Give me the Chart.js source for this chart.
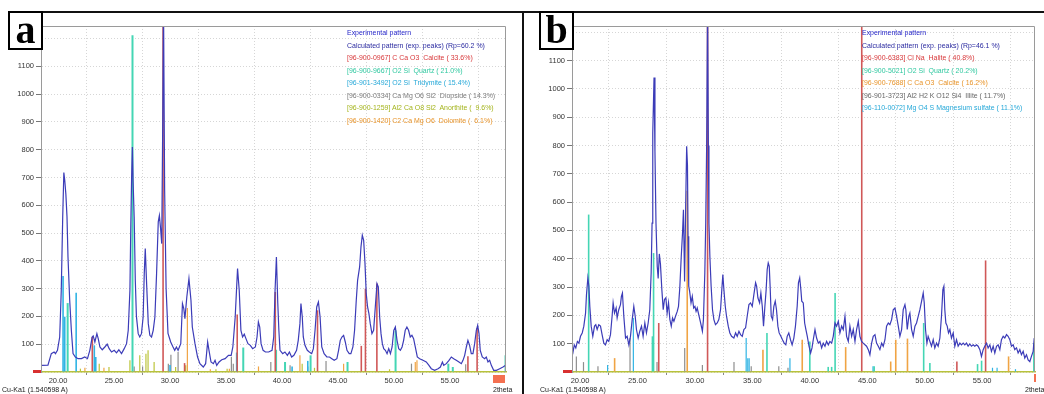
<!DOCTYPE html>
<html>
<head>
<meta charset="utf-8">
<script src="https://cdn.jsdelivr.net/npm/chart.js@4.4.0/dist/chart.umd.min.js"></script>
<style>
    body { margin: 0; background: #fff; width: 1044px; height: 394px; overflow: hidden; position: relative; font-family: "Liberation Sans", Arial, sans-serif; }
    canvas { position: absolute; top: 0; }
    #chartA { left: 0; }
    #chartB { left: 524px; }
    .rule { position: absolute; background: #111; }
    .panelTag { position: absolute; top: 11px; width: 31px; height: 35px; border: 2px solid #000; background: #fff; font: bold 40px "Liberation Serif", "Times New Roman", serif; line-height: 33px; text-align: center; }
    .legend { position: absolute; top: 27px; font: 8px "Liberation Sans", Arial, sans-serif; line-height: 12.5px; transform: scaleX(0.87); transform-origin: 0 0; }
    .legend div { white-space: pre; }
    .foot { position: absolute; top: 386px; font: 7px "Liberation Sans", Arial, sans-serif; color: #222; }
    .mark { position: absolute; }
</style>
</head>
<body>
<canvas id="chartA" width="520" height="394"></canvas>
<canvas id="chartB" width="520" height="394"></canvas>

<div class="rule" style="left:8px; top:11px; width:1036px; height:1.5px;"></div>
<div class="rule" style="left:522px; top:11px; width:1.5px; height:383px;"></div>
<div class="panelTag" style="left:8px;">a</div>
<div class="panelTag" style="left:539px;">b</div>

<div class="legend" style="left:347px;"><div style="color:#2626c8">Experimental pattern</div><div style="color:#2a2aa0">Calculated pattern (exp. peaks) (Rp=60.2 %)</div><div style="color:#d8383a">[96-900-0967] C Ca O3  Calcite ( 33.6%)</div><div style="color:#30c8a0">[96-900-9667] O2 Si  Quartz ( 21.0%)</div><div style="color:#26a8d8">[96-901-3492] O2 Si  Tridymite ( 15.4%)</div><div style="color:#7c7c7c">[96-900-0334] Ca Mg O6 Si2  Diopside ( 14.3%)</div><div style="color:#a4b41c">[96-900-1259] Al2 Ca O8 Si2  Anorthite (  9.6%)</div><div style="color:#e8942a">[96-900-1420] C2 Ca Mg O6  Dolomite (  6.1%)</div></div>
<div class="legend" style="left:862px;"><div style="color:#2626c8">Experimental pattern</div><div style="color:#2a2aa0">Calculated pattern (exp. peaks) (Rp=46.1 %)</div><div style="color:#d8383a">[96-900-6383] Cl Na  Halite ( 40.8%)</div><div style="color:#30c8a0">[96-900-5021] O2 Si  Quartz ( 20.2%)</div><div style="color:#e8942a">[96-900-7688] C Ca O3  Calcite ( 16.2%)</div><div style="color:#666666">[96-901-3723] Al2 H2 K O12 Si4  Illite ( 11.7%)</div><div style="color:#26a8d8">[96-110-0072] Mg O4 S Magnesium sulfate ( 11.1%)</div></div>

<div class="foot" style="left:2px;">Cu-Ka1 (1.540598 A)</div>
<div class="foot" style="left:493px;">2theta</div>
<div class="foot" style="left:540px;">Cu-Ka1 (1.540598 A)</div>
<div class="foot" style="left:1025px;">2theta</div>
<div class="mark" style="left:33px; top:370px; width:8px; height:3px; background:#d83030;"></div>
<div class="mark" style="left:493px; top:375px; width:12px; height:8px; background:#f47050;"></div>
<div class="mark" style="left:563px; top:370px; width:9px; height:3px; background:#d83030;"></div>
<div class="mark" style="left:1034px; top:374px; width:2px; height:8px; background:#f47050;"></div>

<script>
// tick values shared by both panels
const xTicks = [20, 25, 30, 35, 40, 45, 50, 55];
const yTicks = [0, 100, 200, 300, 400, 500, 600, 700, 800, 900, 1000, 1100, 1200];

// panel a - experimental pattern [2theta, counts]
const aPattern = [
    [18.5, 24], [19.1, 25], [19.4, 66], [19.65, 72], [19.77, 66], [19.95, 78], [20.15, 126], [20.29, 294],
    [20.42, 560], [20.52, 718], [20.6, 690], [20.7, 640], [20.8, 560], [20.89, 414], [21.04, 260], [21.19, 150],
    [21.34, 66], [21.55, 54], [21.79, 48], [22.09, 48], [22.39, 54], [22.63, 48], [22.84, 78], [23.05, 126],
    [23.14, 130], [23.29, 108], [23.47, 138], [23.59, 120], [23.74, 90], [23.95, 80], [24.18, 90], [24.39, 100],
    [24.57, 84], [24.78, 72], [25.02, 78], [25.22, 69], [25.43, 80], [25.67, 66], [25.91, 84], [26.12, 102],
    [26.27, 150], [26.42, 294], [26.5, 530], [26.57, 697], [26.64, 810], [26.7, 690], [26.8, 558], [26.9, 330],
    [27.0, 200], [27.16, 138], [27.3, 126], [27.45, 138], [27.6, 198], [27.7, 354], [27.79, 444], [27.91, 318],
    [28.06, 174], [28.2, 132], [28.35, 126], [28.5, 150], [28.65, 198], [28.8, 354], [28.95, 540], [29.05, 563],
    [29.15, 520], [29.26, 462], [29.35, 900], [29.42, 1320], [29.52, 654], [29.65, 300], [29.82, 139], [30.06, 108],
    [30.27, 90], [30.42, 78], [30.57, 90], [30.72, 78], [30.96, 102], [31.11, 246], [31.23, 228], [31.33, 192],
    [31.5, 270], [31.69, 336], [31.87, 258], [31.99, 162], [32.23, 102], [32.46, 54], [32.67, 30], [32.97, 18],
    [33.18, 30], [33.36, 108], [33.48, 78], [33.66, 36], [33.87, 30], [34.02, 42], [34.17, 24], [34.38, 36],
    [34.62, 44], [34.92, 48], [35.22, 60], [35.46, 60], [35.61, 90], [35.82, 198], [36.03, 372], [36.18, 294],
    [36.33, 150], [36.48, 126], [36.63, 136], [36.78, 120], [36.96, 102], [37.17, 96], [37.38, 84], [37.62, 90],
    [37.77, 126], [37.89, 180], [38.01, 162], [38.13, 102], [38.31, 78], [38.52, 72], [38.81, 72], [39.11, 78],
    [39.26, 126], [39.38, 294], [39.5, 414], [39.62, 250], [39.72, 150], [39.82, 78], [40.06, 66], [40.26, 72],
    [40.48, 60], [40.66, 72], [40.86, 54], [41.06, 60], [41.3, 78], [41.45, 114], [41.6, 174], [41.69, 246],
    [41.81, 198], [41.9, 126], [42.05, 96], [42.26, 78], [42.44, 72], [42.65, 66], [42.8, 84], [42.95, 150],
    [43.1, 234], [43.25, 252], [43.4, 198], [43.55, 90], [43.76, 66], [44.0, 54], [44.24, 54], [44.45, 48],
    [44.66, 42], [44.9, 48], [45.05, 78], [45.2, 114], [45.35, 126], [45.5, 132], [45.65, 108], [45.8, 78],
    [46.0, 66], [46.15, 66], [46.33, 90], [46.48, 150], [46.63, 258], [46.75, 330], [46.93, 378], [47.05, 450],
    [47.17, 492], [47.29, 474], [47.41, 390], [47.52, 282], [47.64, 234], [47.76, 210], [47.88, 174], [48.03, 138],
    [48.18, 150], [48.33, 234], [48.48, 318], [48.6, 306], [48.72, 198], [48.84, 138], [48.96, 102], [49.08, 84],
    [49.23, 78], [49.38, 66], [49.53, 84], [49.68, 66], [49.83, 90], [49.98, 150], [50.12, 162], [50.27, 114],
    [50.42, 84], [50.57, 78], [50.72, 90], [50.86, 114], [51.0, 150], [51.15, 162], [51.3, 150], [51.45, 126],
    [51.6, 132], [51.75, 120], [51.9, 90], [52.08, 54], [52.29, 48], [52.58, 42], [52.88, 36], [53.12, 24],
    [53.33, 12], [53.63, 6], [53.93, 12], [54.14, 18], [54.32, 36], [54.44, 24], [54.67, 30], [54.91, 42],
    [55.12, 54], [55.33, 48], [55.56, 42], [55.8, 36], [56.01, 30], [56.16, 42], [56.31, 60], [56.46, 90],
    [56.6, 114], [56.75, 96], [56.9, 66], [57.05, 66], [57.2, 102], [57.35, 150], [57.47, 168], [57.59, 138],
    [57.7, 78], [57.88, 54], [58.09, 48], [58.24, 54], [58.39, 36], [58.54, 42], [58.69, 24], [58.9, 6],
    [59.14, 6], [59.44, 12], [59.73, 18], [59.97, 24]
];

// panel a - reference peaks [2theta, counts]
const aCalcite = [[23.06, 126], [29.38, 1320], [31.3, 32], [36.0, 207], [39.4, 288], [43.17, 222], [47.08, 94], [47.45, 300], [48.47, 318], [56.6, 57], [57.42, 158]];
const aQuartz = [[20.86, 248], [26.65, 1212], [36.54, 88], [39.47, 80], [40.27, 36], [42.55, 60], [45.85, 36], [50.14, 150], [54.85, 30], [55.25, 18], [59.96, 60]];
const aTridymite = [[20.45, 345], [20.6, 199], [21.62, 285], [23.24, 96], [23.37, 54], [30.0, 25], [35.95, 70], [40.9, 20], [42.3, 40]];
const aDiopside = [[26.8, 20], [27.55, 20], [29.85, 30], [30.08, 62], [30.72, 72], [35.48, 55], [35.65, 30], [39.0, 36], [40.72, 24], [42.3, 20], [43.93, 40], [51.56, 30], [56.4, 28]];
const aAnorthite = [[22.0, 12], [23.68, 30], [24.55, 18], [26.42, 42], [27.3, 60], [27.85, 66], [28.04, 78], [28.58, 36], [30.5, 18], [31.4, 24], [34.1, 10], [35.1, 12], [41.8, 30], [42.9, 15], [49.6, 10]];
const aDolomite = [[22.4, 15], [24.1, 15], [31.55, 230], [33.6, 10], [35.3, 12], [37.9, 20], [41.6, 60], [45.5, 30], [51.9, 36], [52.05, 42]];

// panel b - experimental pattern [2theta, counts]
const bPattern = [
    [19.3, 96], [19.4, 73], [19.5, 96], [19.63, 85], [19.77, 108], [19.9, 102], [20.04, 126], [20.19, 138],
    [20.33, 162], [20.48, 208], [20.56, 273], [20.68, 332], [20.77, 303], [20.85, 232], [20.97, 162], [21.11, 126],
    [21.26, 162], [21.37, 167], [21.49, 150], [21.63, 167], [21.78, 162], [21.92, 132], [22.07, 102], [22.21, 96],
    [22.36, 114], [22.5, 108], [22.65, 132], [22.79, 197], [22.88, 244], [23.0, 208], [23.14, 226], [23.23, 191],
    [23.37, 220], [23.52, 238], [23.6, 267], [23.69, 279], [23.81, 197], [23.96, 120], [24.1, 126], [24.25, 96],
    [24.39, 126], [24.54, 185], [24.68, 232], [24.8, 197], [24.91, 150], [25.06, 120], [25.2, 144], [25.35, 162],
    [25.49, 126], [25.64, 173], [25.78, 138], [25.93, 173], [26.07, 220], [26.19, 350], [26.27, 526], [26.33, 845],
    [26.44, 1040], [26.52, 780], [26.61, 526], [26.72, 373], [26.8, 330], [26.9, 417], [27.0, 380], [27.12, 291],
    [27.24, 220], [27.35, 256], [27.47, 262], [27.58, 208], [27.7, 244], [27.82, 185], [27.94, 162], [28.05, 191],
    [28.17, 179], [28.31, 197], [28.46, 214], [28.57, 232], [28.69, 303], [28.81, 409], [28.92, 491], [29.0, 573],
    [29.1, 320], [29.2, 600], [29.28, 797], [29.35, 730], [29.4, 479], [29.46, 303], [29.54, 285], [29.66, 244],
    [29.77, 267], [29.89, 226], [30.0, 232], [30.1, 214], [30.2, 226], [30.36, 197], [30.5, 173], [30.65, 144],
    [30.74, 185], [30.86, 350], [30.94, 526], [31.02, 800], [31.1, 1300], [31.17, 800], [31.22, 526], [31.3, 409],
    [31.41, 303], [31.53, 220], [31.65, 185], [31.79, 167], [31.94, 173], [32.08, 185], [32.23, 220], [32.34, 291],
    [32.43, 344], [32.52, 291], [32.64, 232], [32.75, 197], [32.9, 162], [33.04, 138], [33.19, 126], [33.39, 120],
    [33.54, 138], [33.68, 126], [33.83, 144], [33.97, 132], [34.12, 126], [34.26, 150], [34.41, 156], [34.55, 197],
    [34.7, 238], [34.84, 244], [34.99, 232], [35.13, 273], [35.28, 315], [35.37, 303], [35.48, 262], [35.63, 244],
    [35.74, 279], [35.86, 232], [35.97, 162], [36.09, 232], [36.2, 291], [36.29, 362], [36.38, 385], [36.47, 373],
    [36.55, 297], [36.64, 197], [36.76, 185], [36.87, 232], [36.99, 250], [37.1, 220], [37.22, 162], [37.33, 138],
    [37.48, 126], [37.62, 114], [37.77, 102], [37.91, 96], [38.03, 126], [38.17, 138], [38.32, 114], [38.46, 96],
    [38.61, 120], [38.75, 162], [38.9, 232], [39.01, 315], [39.12, 332], [39.22, 291], [39.3, 250], [39.43, 244],
    [39.55, 173], [39.66, 150], [39.78, 126], [39.93, 91], [40.07, 67], [40.19, 85], [40.3, 114], [40.45, 150],
    [40.59, 120], [40.74, 102], [40.88, 108], [41.03, 85], [41.17, 102], [41.32, 91], [41.46, 108], [41.61, 96],
    [41.75, 108], [41.9, 102], [42.04, 126], [42.19, 173], [42.33, 162], [42.48, 179], [42.62, 138], [42.77, 162],
    [42.91, 150], [43.06, 197], [43.2, 126], [43.35, 108], [43.49, 162], [43.64, 126], [43.78, 150], [43.93, 108],
    [44.07, 150], [44.22, 179], [44.36, 126], [44.51, 108], [44.65, 102], [44.8, 96], [44.94, 91], [45.09, 79],
    [45.23, 61], [45.38, 102], [45.52, 126], [45.67, 132], [45.81, 102], [45.96, 91], [46.1, 79], [46.25, 102],
    [46.39, 91], [46.54, 114], [46.68, 162], [46.83, 173], [46.97, 167], [47.12, 185], [47.26, 220], [47.41, 226],
    [47.55, 197], [47.7, 162], [47.84, 126], [47.99, 150], [48.13, 220], [48.28, 238], [48.36, 220], [48.48, 150],
    [48.62, 197], [48.71, 208], [48.86, 150], [49.0, 126], [49.15, 162], [49.29, 173], [49.44, 197], [49.58, 220],
    [49.73, 250], [49.87, 279], [49.96, 244], [50.07, 150], [50.19, 102], [50.3, 126], [50.45, 108], [50.59, 91],
    [50.74, 114], [50.88, 85], [51.03, 102], [51.17, 91], [51.32, 120], [51.46, 197], [51.58, 291], [51.67, 303],
    [51.75, 220], [51.84, 173], [51.96, 162], [52.07, 138], [52.19, 150], [52.33, 120], [52.48, 138], [52.62, 91],
    [52.77, 114], [52.91, 91], [53.06, 102], [53.2, 96], [53.35, 102], [53.49, 96], [53.64, 102], [53.78, 91],
    [53.93, 99], [54.07, 91], [54.22, 96], [54.36, 91], [54.51, 96], [54.65, 91], [54.8, 79], [54.94, 55],
    [55.09, 79], [55.23, 91], [55.38, 102], [55.52, 85], [55.67, 96], [55.81, 73], [55.96, 91], [56.1, 67],
    [56.25, 91], [56.39, 96], [56.54, 79], [56.68, 114], [56.83, 126], [56.97, 120], [57.12, 132], [57.26, 126],
    [57.41, 114], [57.55, 91], [57.7, 96], [57.84, 79], [57.99, 85], [58.13, 67], [58.28, 79], [58.42, 61],
    [58.57, 73], [58.71, 49], [58.86, 61], [59.0, 43], [59.15, 37], [59.29, 55], [59.44, 73], [59.52, 114],
    [59.6, 108]
];

// panel b - reference peaks [2theta, counts]
const bHalite = [[26.85, 173], [31.1, 1300], [44.52, 1300], [52.8, 37], [55.3, 394]];
const bQuartz = [[20.75, 556], [26.3, 126], [26.4, 420], [36.27, 138], [40.0, 108], [41.6, 18], [41.9, 18], [42.2, 279], [45.6, 20], [49.91, 173], [50.45, 32], [54.6, 28], [54.95, 40], [59.5, 102]];
const bCalcite = [[23.01, 49], [29.33, 640], [35.92, 79], [39.34, 114], [43.12, 88], [47.04, 37], [47.48, 114], [48.5, 118], [57.3, 55]];
const bIllite = [[19.68, 55], [20.3, 35], [21.56, 20], [24.35, 120], [26.7, 35], [29.11, 85], [30.65, 25], [33.4, 35], [34.9, 20], [37.3, 20], [38.1, 15]];
const bMgSulfate = [[22.4, 25], [24.64, 191], [34.46, 120], [34.6, 49], [34.72, 49], [38.27, 49], [45.5, 20], [55.9, 15], [56.3, 15], [57.9, 10]];

const stickSet = (label, peaks, color, width) => ({
    type: 'bar',
    label: label,
    data: peaks.map(p => ({ x: p[0], y: p[1] })),
    backgroundColor: color,
    barThickness: width || 1.6,
    inflateAmount: 0,
    grouped: false,
    order: 1,
});

// grey frame round the plot area (left, top, right)
const plotFrame = {
    id: 'plotFrame',
    afterDraw(chart) {
        const { ctx, chartArea } = chart;
        ctx.save();
        ctx.strokeStyle = '#9a9a9a';
        ctx.lineWidth = 1;
        ctx.beginPath();
        ctx.moveTo(chartArea.left + 0.5, chartArea.bottom);
        ctx.lineTo(chartArea.left + 0.5, chartArea.top + 0.5);
        ctx.lineTo(chartArea.right - 0.5, chartArea.top + 0.5);
        ctx.lineTo(chartArea.right - 0.5, chartArea.bottom);
        ctx.stroke();
        ctx.restore();
    }
};

const fillDataIntoXrdChart = (canvasID, pattern, sticks, xMin, xMax, yMax, yAxisWidth, rightPad) => {
    new Chart(canvasID, {
        type: 'line',
        data: {
            datasets: [
                {
                    label: 'Experimental pattern',
                    data: pattern.map(p => ({ x: p[0], y: p[1] })),
                    borderColor: '#3c3cb8',
                    borderWidth: 1.2,
                    pointRadius: 0,
                    tension: 0,
                    order: 0,
                },
                ...sticks
            ]
        },
        options: {
            responsive: false,
            animation: false,
            events: [],
            layout: { padding: { left: 0, top: 26, right: rightPad, bottom: 0 } },
            scales: {
                x: {
                    type: 'linear',
                    min: xMin,
                    max: xMax,
                    offset: false,
                    afterBuildTicks: scale => { scale.ticks = xTicks.map(v => ({ value: v })); },
                    afterFit: scale => { scale.height = 22; },
                    grid: { color: '#d6d6d6', tickLength: 3, tickColor: '#888', tickBorderDash: [] },
                    border: { color: '#b8c23c', width: 1.5, dash: [1, 2] },
                    ticks: {
                        autoSkip: false,
                        maxRotation: 0,
                        padding: 1,
                        color: '#333',
                        font: { family: 'Liberation Sans', size: 7.5 },
                        callback: value => value.toFixed(2)
                    }
                },
                y: {
                    min: 0,
                    max: yMax,
                    afterBuildTicks: scale => { scale.ticks = yTicks.map(v => ({ value: v })); },
                    afterFit: scale => { scale.width = yAxisWidth; },
                    grid: { color: '#d6d6d6', tickLength: 5, tickColor: '#777', tickBorderDash: [] },
                    border: { color: '#9a9a9a', width: 1, dash: [1, 2] },
                    ticks: {
                        autoSkip: false,
                        padding: 2,
                        color: '#333',
                        font: { family: 'Liberation Sans', size: 7.5 },
                        callback: value => (value >= 100 && value <= 1100) ? value : ''
                    }
                }
            },
            plugins: {
                legend: { display: false },
                tooltip: { enabled: false }
            }
        },
        plugins: [plotFrame]
    });
}

fillDataIntoXrdChart('chartA', aPattern, [
    stickSet('Calcite', aCalcite, '#d05858'),
    stickSet('Quartz', aQuartz, '#44d6b4', 2),
    stickSet('Tridymite', aTridymite, '#30b4e4'),
    stickSet('Diopside', aDiopside, '#8e8e8e', 1.2),
    stickSet('Anorthite', aAnorthite, '#bcc43a', 1.2),
    stickSet('Dolomite', aDolomite, '#f0a444', 1.2),
], 18.48, 60.0, 1245, 41, 14);

fillDataIntoXrdChart('chartB', bPattern, [
    stickSet('Halite', bHalite, '#d05858'),
    stickSet('Quartz', bQuartz, '#44d6b4'),
    stickSet('Calcite', bCalcite, '#f0a444'),
    stickSet('Illite', bIllite, '#8e8e8e', 1.2),
    stickSet('Magnesium sulfate', bMgSulfate, '#30b4e4', 1.2),
], 19.3, 59.6, 1222, 48, 9);
</script>
</body>
</html>
